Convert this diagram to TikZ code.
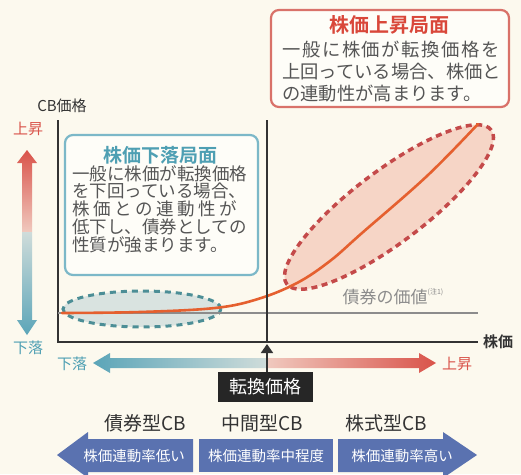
\documentclass[tikz,border=0pt]{standalone}
\usepackage{fontspec}
\setmainfont{Noto Sans CJK JP}[BoldFont={Noto Sans CJK JP Bold}]
\usetikzlibrary{shapes.geometric,arrows.meta,calc}
\definecolor{bgc}{HTML}{FCF9EE}
\definecolor{redt}{HTML}{D9473A}
\definecolor{redb}{HTML}{D9726A}
\definecolor{ellred}{HTML}{C44A4A}
\definecolor{ellfill}{HTML}{F6D5C6}
\definecolor{tealt}{HTML}{4E9FB3}
\definecolor{tealb}{HTML}{7CB8C8}
\definecolor{tealell}{HTML}{4C8E96}
\definecolor{tealfill}{HTML}{D9E3E0}
\definecolor{grayt}{HTML}{555555}
\definecolor{axisc}{HTML}{333333}
\definecolor{bondc}{HTML}{8C8C8C}
\definecolor{curvec}{HTML}{E5602F}
\definecolor{bluec}{HTML}{5A72B0}
\definecolor{arrred}{HTML}{D9534A}
\definecolor{arrteal}{HTML}{5BA5B8}
\definecolor{lightteal}{HTML}{CFDCDA}
\definecolor{lightpink}{HTML}{F0C9BE}
\tikzset{
  phasebox/.style={draw, rounded corners=8pt, line width=2.2pt, fill=white!60!bgc},
  bodytxt/.style={text=grayt, align=left, inner sep=0pt},
  axisline/.style={draw=axisc, line width=1.8pt},
  cblabel/.style={text=black!80, font=\fontsize{19}{20}\selectfont, inner sep=0pt},
  bluepiece/.style={fill=bluec},
  whitetxt/.style={text=white, font=\fontsize{14.5}{16}\selectfont, inner sep=0pt},
}
\begin{document}
\begin{tikzpicture}[x=1pt,y=-1pt]
\fill[bgc] (0,0) rectangle (521,474);
\useasboundingbox (0,0) rectangle (521,474);

% ellipses
\node[ellipse, draw=ellred, fill=ellfill, line width=3.5pt, dash pattern=on 6pt off 4.5pt,
      minimum width=256pt, minimum height=72pt, rotate=37, inner sep=0pt] (re) at (389,207) {};
\node[ellipse, draw=tealell, fill=tealfill, line width=3pt, dash pattern=on 6pt off 5pt,
      minimum width=158pt, minimum height=36pt, inner sep=0pt] (te) at (142,309) {};

% axes
\coordinate (o) at (58,342);
\coordinate (ytop) at (58,120);
\coordinate (xend) at (478,342);
\draw[axisline] (ytop) -- (o) -- (xend);
\node[font=\fontsize{15}{16}\selectfont\bfseries, text=axisc, anchor=west, inner sep=0pt] (xlab) at (483,342) {株価};
\node[font=\fontsize{15}{16}\selectfont, text=axisc, inner sep=0pt] (ylab) at (62,106) {CB価格};

% bond value line
\coordinate (b0) at (58,313);
\coordinate (b1) at (478,313);
\draw[draw=bondc, line width=1.5pt] (b0) -- (b1);
\node[text=bondc, font=\fontsize{17}{18}\selectfont, inner sep=0pt] (bondlab) at (393,297) {債券の価値\raisebox{0.55em}{\fontsize{7}{8}\selectfont (注1)}};

% CB curve
\draw[curvec, line width=2.6pt, line cap=round]
  plot[smooth, tension=0.6] coordinates {(62,313) (140,312) (215,308) (258,299) (297,283) (330,261) (362,233) (427,176) (478,124)};

% conversion price line + box
\node[fill=black!85, text=white, font=\fontsize{18}{19}\selectfont, minimum width=95pt, minimum height=30pt, inner sep=0pt] (cp) at (265,387) {転換価格};
\coordinate (vtop) at (267,120);
\coordinate (vtip) at (267,344);

% horizontal gradient arrow (two halves)
\shade[left color=arrteal, right color=lightteal]
  (93,363) -- (110,353) -- (110,358) -- (267,358) -- (267,368) -- (110,368) -- (110,373) -- cycle;
\shade[left color=lightpink, right color=arrred]
  (267,358) -- (419,358) -- (419,353) -- (436,363) -- (419,373) -- (419,368) -- (267,368) -- cycle;
\node[text=tealt, font=\fontsize{15}{16}\selectfont, inner sep=0pt] (hdown) at (72,364) {下落};
\node[text=arrred, font=\fontsize{15}{16}\selectfont, inner sep=0pt] (hup) at (457,364) {上昇};

\draw[axisc, line width=1.8pt] (vtop) -- (o -| vtop);
\draw[axisc, line width=1.8pt, -{Triangle[length=9pt,width=12pt]}] (cp.north -| vtop) -- (vtip);

% vertical gradient arrow (two halves)
\shade[top color=arrred, bottom color=lightpink]
  (27,150) -- (37,163) -- (32,163) -- (32,232) -- (22,232) -- (22,163) -- (17,163) -- cycle;
\shade[top color=lightteal, bottom color=arrteal]
  (22,232) -- (32,232) -- (32,320) -- (37,320) -- (27,335) -- (17,320) -- (22,320) -- cycle;
\node[text=arrred, font=\fontsize{15}{16}\selectfont, inner sep=0pt] (vup) at (28,129) {上昇};
\node[text=tealt, font=\fontsize{15}{16}\selectfont, inner sep=0pt] (vdown) at (28,348) {下落};

% blue box (falling phase)
\draw[phasebox, draw=tealb] (65,135) rectangle (258,275);
\node[text=tealt, font=\fontsize{19}{20}\selectfont\bfseries, inner sep=0pt] (bt) at (160,155) {株価下落局面};
\node[bodytxt, font=\fontsize{17.5}{18}\selectfont, anchor=north west] (bb) at (72,165)
  {一般に株価が転換価格\\[-0.2pt]を下回っている場合、\\[-0.2pt]株\hspace{0.2em}価\hspace{0.2em}と\hspace{0.2em}の\hspace{0.2em}連\hspace{0.2em}動\hspace{0.2em}性\hspace{0.2em}が\\[-0.2pt]低下し、債券としての\\[-0.2pt]性質が強まります。};

% red box (rising phase)
\draw[phasebox, draw=redb] (271,10) rectangle (509,107);
\node[text=redt, font=\fontsize{20}{21}\selectfont\bfseries, inner sep=0pt] (rt) at (389,25) {株価上昇局面};
\node[bodytxt, font=\fontsize{18.3}{22}\selectfont, anchor=north west] (rb) at (282,41)
  {一\hspace{0.09em}般\hspace{0.09em}に\hspace{0.09em}株\hspace{0.09em}価\hspace{0.09em}が\hspace{0.09em}転\hspace{0.09em}換\hspace{0.09em}価\hspace{0.09em}格\hspace{0.09em}を\\上回っている場合、株価と\\の連動性が高まります。};

% CB type labels
\node[cblabel] (c1) at (145,423) {債券型CB};
\node[cblabel] (c2) at (262,423) {中間型CB};
\node[cblabel] (c3) at (386,423) {株式型CB};

% bottom arrow pieces
\fill[bluepiece] (57,455) -- (88,432) -- (88,439) -- (193,439) -- (193,472) -- (88,472) -- (88,478) -- cycle;
\fill[bluepiece] (199,439) rectangle (333,472);
\fill[bluepiece] (477,455) -- (443,432) -- (443,439) -- (338,439) -- (338,472) -- (443,472) -- (443,478) -- cycle;
\node[whitetxt] (w1) at (134,456) {株価連動率低い};
\node[whitetxt] (w2) at (266,456) {株価連動率中程度};
\node[whitetxt] (w3) at (402,456) {株価連動率高い};
\end{tikzpicture}
\end{document}
